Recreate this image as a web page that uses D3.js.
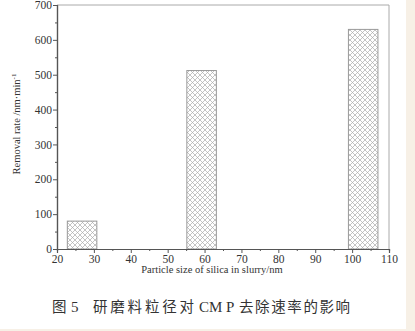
<!DOCTYPE html>
<html>
<head>
<meta charset="utf-8">
<script src="https://cdn.jsdelivr.net/npm/d3@7"></script>
<style>
  body { margin: 0; background: #f7f0e6; }
  svg { display: block; }
</style>
</head>
<body>
<div class="chart"></div>
<script>
// values
const particleSizes = [26.8, 59.2, 103];
const removalRates = [80, 512, 630];
const barWidthUnits = 8;
const xTicks = [20, 30, 40, 50, 60, 70, 80, 90, 100, 110];
const yTicks = [0, 100, 200, 300, 400, 500, 600, 700];

var w = 415,
	h = 331;

const svg = d3.select(".chart").append("svg").attr("width", w).attr("height", h);

// white page area, beige border at right/bottom
svg.append("rect").attr("x", 0).attr("y", 0).attr("width", 406).attr("height", 329).attr("fill", "#fff");

const xScale = d3.scaleLinear().domain([20, 110]).range([57, 389]);
const yScale = d3.scaleLinear().domain([0, 700]).range([249, 5]);

const defs = svg.append("defs");
const pat = defs
	.append("pattern")
	.attr("id", "hatch")
	.attr("patternUnits", "userSpaceOnUse")
	.attr("width", 5)
	.attr("height", 5);
pat.append("path").attr("d", "M0,0L5,5M5,0L0,5").attr("stroke", "#aaa").attr("stroke-width", 0.7);

// frame (top and right)
svg
	.append("path")
	.attr("d", "M" + xScale(20) + "," + yScale(700) + "H" + xScale(110) + "V" + yScale(0))
	.attr("fill", "none")
	.attr("stroke", "#aaa")
	.attr("stroke-width", 1);

// bars
svg
	.selectAll("rect.bar")
	.data(particleSizes)
	.enter()
	.append("rect")
	.attr("class", "bar")
	.attr("x", (d) => xScale(d - barWidthUnits / 2))
	.attr("width", (d) => xScale(d + barWidthUnits / 2) - xScale(d - barWidthUnits / 2))
	.attr("y", (d, i) => yScale(removalRates[i]))
	.attr("height", (d, i) => yScale(0) - yScale(removalRates[i]))
	.attr("fill", "url(#hatch)")
	.attr("stroke", "#999")
	.attr("stroke-width", 1);

const font = "'Liberation Serif', 'Times New Roman', serif";

const xAxis = d3.axisBottom(xScale).tickValues(xTicks).tickSize(4).tickPadding(2).tickFormat(d3.format("d"));
const xMinor = d3.axisBottom(xScale).tickValues(d3.range(25, 110, 10)).tickSize(2).tickFormat("");
const yAxis = d3.axisLeft(yScale).tickValues(yTicks).tickSize(4).tickPadding(1).tickFormat(d3.format("d"));
const yMinor = d3.axisLeft(yScale).tickValues(d3.range(50, 700, 100)).tickSize(2).tickFormat("");

function styleAxis(g) {
	g.selectAll("path, line").attr("stroke", "#555");
	g.select(".domain").attr("stroke-width", 1.2);
	g.selectAll("text").attr("fill", "#333").style("font-family", font).style("font-size", "11.5px");
}

svg.append("g").attr("transform", "translate(0," + yScale(0) + ")").call(xMinor).call(styleAxis);
svg.append("g").attr("transform", "translate(0," + yScale(0) + ")").call(xAxis).call(styleAxis);
svg.append("g").attr("transform", "translate(" + xScale(20) + ",0)").call(yMinor).call(styleAxis);
svg.append("g").attr("transform", "translate(" + xScale(20) + ",0)").call(yAxis).call(styleAxis);

// axis titles
svg
	.append("text")
	.attr("x", 212)
	.attr("y", 273)
	.attr("text-anchor", "middle")
	.style("font-family", font)
	.style("font-size", "10.5px")
	.attr("fill", "#333")
	.text("Particle size of silica in slurry/nm");

const yt = svg
	.append("text")
	.attr("transform", "translate(20,124) rotate(-90)")
	.attr("text-anchor", "middle")
	.style("font-family", font)
	.style("font-size", "10.5px")
	.attr("fill", "#333");
yt.append("tspan").text("Removal rate /nm·min");
yt.append("tspan").attr("dy", -4).style("font-size", "7px").text("-1");

// caption
const cjk = "'Noto Sans CJK SC', sans-serif";
const cap = svg
	.append("text")
	.attr("y", 312)
	.style("font-size", "14.5px")
	.attr("fill", "#333");
cap.append("tspan").attr("x", 52).style("font-family", cjk).text("图");
cap.append("tspan").attr("x", 71).style("font-family", font).style("font-size", "15px").text("5");
cap.append("tspan").attr("x", 93).style("font-family", cjk).style("letter-spacing", "2.8px").text("研磨料粒径对");
cap.append("tspan").attr("x", 199).style("font-family", font).style("font-size", "15px").text("CM P");
cap.append("tspan").attr("x", 239).style("font-family", cjk).style("letter-spacing", "1.6px").text("去除速率的影响");
</script>
</body>
</html>
